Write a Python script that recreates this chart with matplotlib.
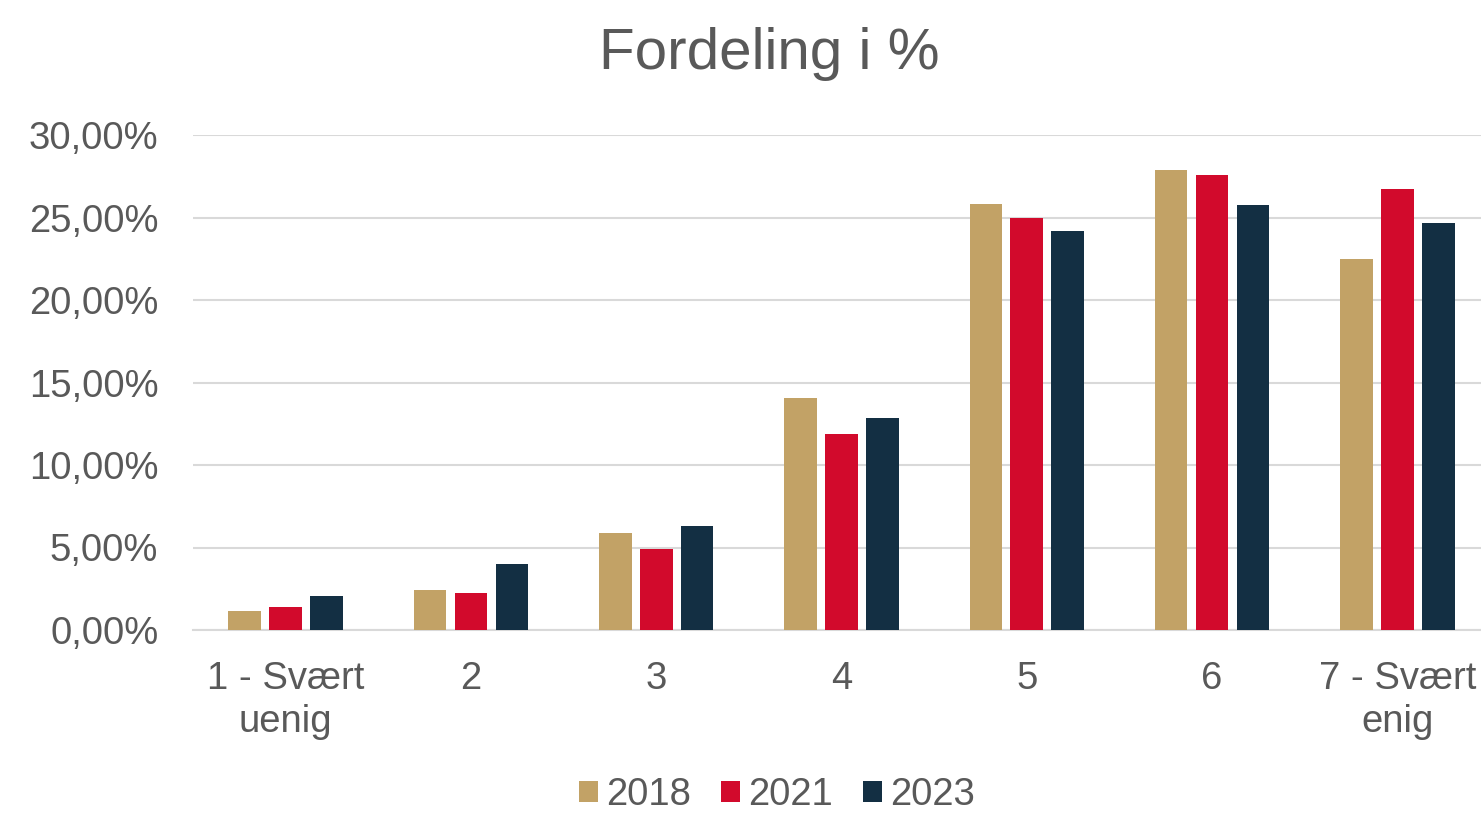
import matplotlib
matplotlib.use("Agg")
import matplotlib.pyplot as plt
from matplotlib.ticker import FuncFormatter
import numpy as np

categories = ["1 - Svært\nuenig", "2", "3", "4", "5", "6", "7 - Svært\nenig"]
years = ["2018", "2021", "2023"]
v2018 = [1.17, 2.40, 5.90, 14.06, 25.80, 27.86, 22.50]
v2021 = [1.41, 2.24, 4.90, 11.90, 24.97, 27.60, 26.73]
v2023 = [2.06, 4.00, 6.30, 12.85, 24.18, 25.78, 24.67]
series = [v2018, v2021, v2023]
colors = ["#C2A266", "#D20A2C", "#132F43"]

plt.rcParams['font.family'] = ['Liberation Sans', 'DejaVu Sans']
text_color = "#595959"

fig = plt.figure(figsize=(14.81, 8.16), dpi=100)
ax = fig.add_axes([193/1481, 186/816, (1490-193)/1481, 495/816])

x = np.arange(len(categories))
offsets = [-0.221, 0.0, 0.221]
for vals, off, col, lab in zip(series, offsets, colors, years):
    ax.bar(x + off, vals, width=0.176, color=col, label=lab, zorder=3)

ax.set_xlim(-0.5, len(categories) - 0.5)
ax.set_ylim(0, 30)
ax.set_yticks(np.arange(0, 31, 5))
ax.yaxis.set_major_formatter(FuncFormatter(lambda v, p: f"{v:.2f}".replace(".", ",") + "%"))
ax.grid(axis='y', color="#D9D9D9", linewidth=1.5, zorder=0)
ax.set_axisbelow(True)
for s in ["top", "right", "left"]:
    ax.spines[s].set_visible(False)
ax.spines["bottom"].set_color("#D9D9D9")
ax.spines["bottom"].set_linewidth(1.5)
ax.set_xticks(x)
ax.set_xticklabels(categories, linespacing=1.25)
ax.tick_params(axis='both', length=0, labelsize=27.5, labelcolor=text_color)
ax.tick_params(axis='y', pad=25)
ax.tick_params(axis='x', pad=22)

fig.text(769/1481, 1 - 54/816, "Fordeling i %", ha='center', va='center',
         fontsize=42, color=text_color)

leg = fig.legend(loc='center', bbox_to_anchor=(777/1481, 1 - 795/816), ncol=3,
                 frameon=False, fontsize=27.5, handlelength=0.5, handleheight=0.5,
                 handletextpad=0.2, columnspacing=0.8, borderpad=0)
for t in leg.get_texts():
    t.set_color(text_color)

fig.savefig("out.png", dpi=100)
